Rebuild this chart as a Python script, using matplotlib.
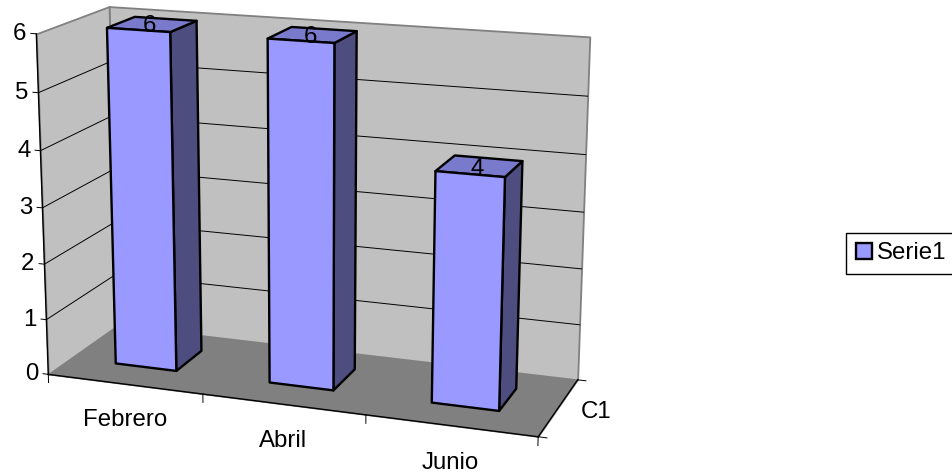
import matplotlib
matplotlib.use('Agg')
import matplotlib.pyplot as plt
from matplotlib.patches import Patch
from mpl_toolkits.mplot3d import proj3d
from mpl_toolkits.mplot3d.art3d import Poly3DCollection

months = ['Febrero', 'Abril', 'Junio']
values = [6, 6, 4]
value_ticks = [0, 1, 2, 3, 4, 5, 6]
depth_label = 'C1'
series_name = 'Serie1'

plt.rcParams['font.family'] = ['Liberation Sans', 'DejaVu Sans']
FS = 17.3

WALL = '#c0c0c0'
FLOOR = '#808080'
FRONT = '#9999ff'
TOP = '#7a7acc'
SIDE = '#4d4d80'

W, H = 953, 476
fig = plt.figure(figsize=(W / 100, H / 100), dpi=100)
# camera found by fitting the chart corners
ax = fig.add_axes([-10.5 / W, -56.5 / H, 628 / W, 628 / H], projection='3d')
ax.set_proj_type('persp', focal_length=0.617)
ax.view_init(elev=15.27, azim=-70.24)
ax.set_box_aspect((5.0, 1.627, 3.439))
nx = len(months)
zt = value_ticks[-1]
ax.set_xlim(0, nx)
ax.set_ylim(0, 1)
ax.set_zlim(0, zt)
ax.set_axis_off()
ax.computed_zorder = False
ax.patch.set_alpha(0)


def face(verts, color, z, edge='black', lw=1.7):
    ax.add_collection3d(Poly3DCollection([verts], facecolors=color, edgecolors=edge,
                                         linewidths=lw, zorder=z))


def line(xs, ys, zs, color='black', lw=0.7, z=2):
    ax.plot(xs, ys, zs, color=color, lw=lw, zorder=z)


def label(x, y, z, s, ha='center'):
    # flat text at the projected position of a 3d point
    xp, yp, _ = proj3d.proj_transform(x, y, z, ax.get_proj())
    ax.text2D(xp, yp, s, transform=ax.transData, ha=ha, va='center', fontsize=FS,
              zorder=6, clip_on=False)


# walls and floor
face([(0, 0, 0), (nx, 0, 0), (nx, 1, 0), (0, 1, 0)], FLOOR, 1, FLOOR, 0.8)
face([(0, 1, 0), (nx, 1, 0), (nx, 1, zt), (0, 1, zt)], WALL, 1, FLOOR, 1.3)
face([(0, 0, 0), (0, 1, 0), (0, 1, zt), (0, 0, zt)], WALL, 1, FLOOR, 1.3)

# gridlines and value axis
for v in value_ticks[1:-1]:
    line([0, 0, nx], [0, 1, 1], [v, v, v])
line([0, 0], [0, 0], [0, zt], lw=1)
for v in value_ticks:
    line([0, -0.035], [0, 0], [v, v])
    label(-0.065, 0, v - 0.02, str(v), ha='right')

# category axis
line([0, nx], [0, 0], [0, 0], lw=1)
for i in range(nx + 1):
    line([i, i], [0, 0], [0, -0.15])
for i, m in enumerate(months):
    label(i + 0.5, 0, -0.65, m)

# depth axis
line([nx, nx], [0, 1], [0, 0], lw=1)
line([nx, nx + 0.05], [1, 1], [0, 0])
line([nx, nx + 0.05], [0, 0], [0, 0])
label(nx + 0.22, 0.5, 0, depth_label)

# bars
bw = 0.4
bd = 0.4
for i, v in enumerate(values):
    xc = i + 0.49
    x0, x1 = xc - bw / 2, xc + bw / 2
    y0, y1 = 0.53 - bd / 2, 0.53 + bd / 2
    zo = 3 + i * 0.1
    face([(x1, y0, 0), (x1, y1, 0), (x1, y1, v), (x1, y0, v)], SIDE, zo)
    face([(x0, y0, v), (x1, y0, v), (x1, y1, v), (x0, y1, v)], TOP, zo)
    face([(x0, y0, 0), (x1, y0, 0), (x1, y0, v), (x0, y0, v)], FRONT, zo)
    label(xc, 0.5, v - 0.03, str(v))

fig.legend(handles=[Patch(facecolor=FRONT, edgecolor='black', linewidth=1.7, label=series_name)],
           loc='upper left', fontsize=FS, fancybox=False, edgecolor='black', framealpha=1,
           bbox_to_anchor=(846 / W, 1 - 232.5 / H), handlelength=0.67, handleheight=0.67,
           handletextpad=0.2, borderpad=0.4, borderaxespad=0)

fig.savefig('out.png', dpi=100)
